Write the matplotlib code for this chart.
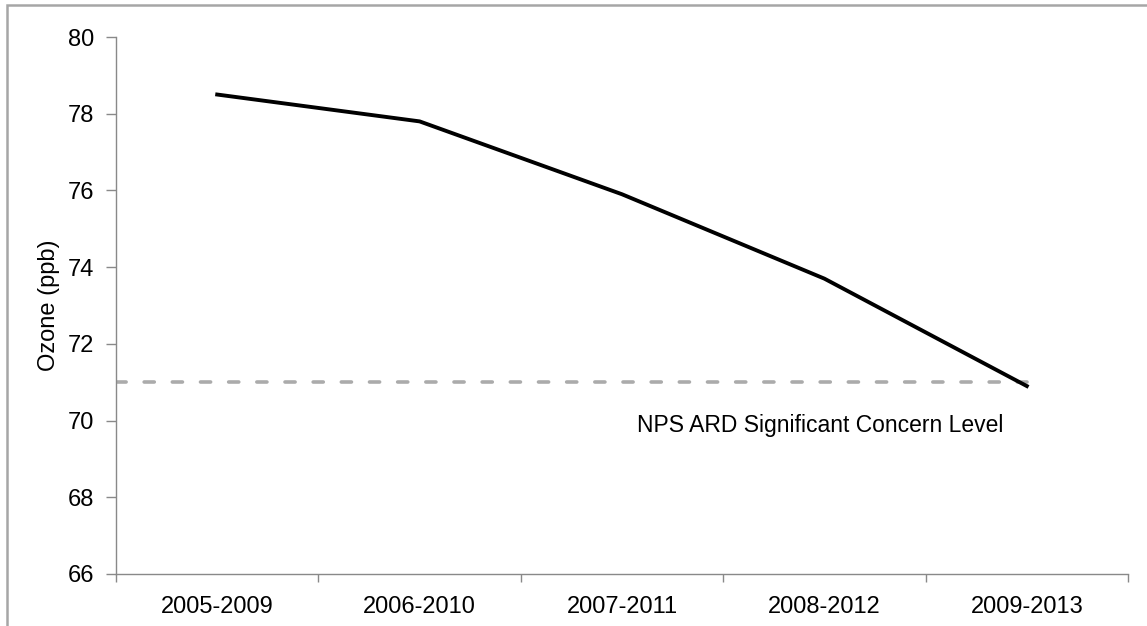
import matplotlib
matplotlib.use("Agg")
import matplotlib.pyplot as plt
from matplotlib.patches import Rectangle

plt.rcParams['font.family'] = ['Liberation Sans', 'DejaVu Sans']

categories = ["2005-2009", "2006-2010", "2007-2011", "2008-2012", "2009-2013"]
ozone = [78.5, 77.8, 75.9, 73.7, 70.9]
concern_level = 71.0
concern_label = "NPS ARD Significant Concern Level"
y_ticks = [66, 68, 70, 72, 74, 76, 78, 80]

fig = plt.figure(figsize=(11.47, 6.26), dpi=100)
ax = fig.add_axes([116/1147, 1-574/626, 1012/1147, (574-37)/626])

x = list(range(len(categories)))
ax.plot([-0.5, x[-1]], [concern_level, concern_level], color='#ABABAB', lw=2.6,
        linestyle=(0, (2.8, 5.0)), dash_capstyle='round', zorder=2)
ax.plot(x, ozone, color='black', lw=2.8, solid_joinstyle='miter', zorder=3)

ax.text(2.074, 69.87, concern_label, ha='left', va='center', fontsize=16.5)

ax.set_xlim(-0.5, len(categories) - 0.5)
ax.set_ylim(66, 80)
ax.set_yticks(y_ticks)
ax.set_yticklabels([str(v) for v in y_ticks])
ax.set_xticks([i - 0.5 for i in range(len(categories) + 1)])
ax.set_xticklabels([])
ax.set_xticks(x, minor=True)
ax.set_xticklabels(categories, minor=True)

grey = '#898989'
for s in ['top', 'right']:
    ax.spines[s].set_visible(False)
for s in ['left', 'bottom']:
    ax.spines[s].set_color(grey)
    ax.spines[s].set_linewidth(1.0)

ax.tick_params(axis='y', direction='out', length=7, width=1.0, color=grey,
               labelsize=17, pad=9)
ax.tick_params(axis='x', which='major', direction='out', length=6, width=1.0, color=grey)
ax.tick_params(axis='x', which='minor', length=0, labelsize=17, pad=16)

ax.set_ylabel("Ozone (ppb)", fontsize=17)
ax.yaxis.set_label_coords(-0.0555, 0.5)

fig.patches.append(Rectangle((7/1147, -0.1), 1.2, 1.1 - 5/626, transform=fig.transFigure,
                             fill=False, edgecolor='#A6A6A6', lw=1.8, zorder=0))

fig.savefig("out.png", dpi=100)
